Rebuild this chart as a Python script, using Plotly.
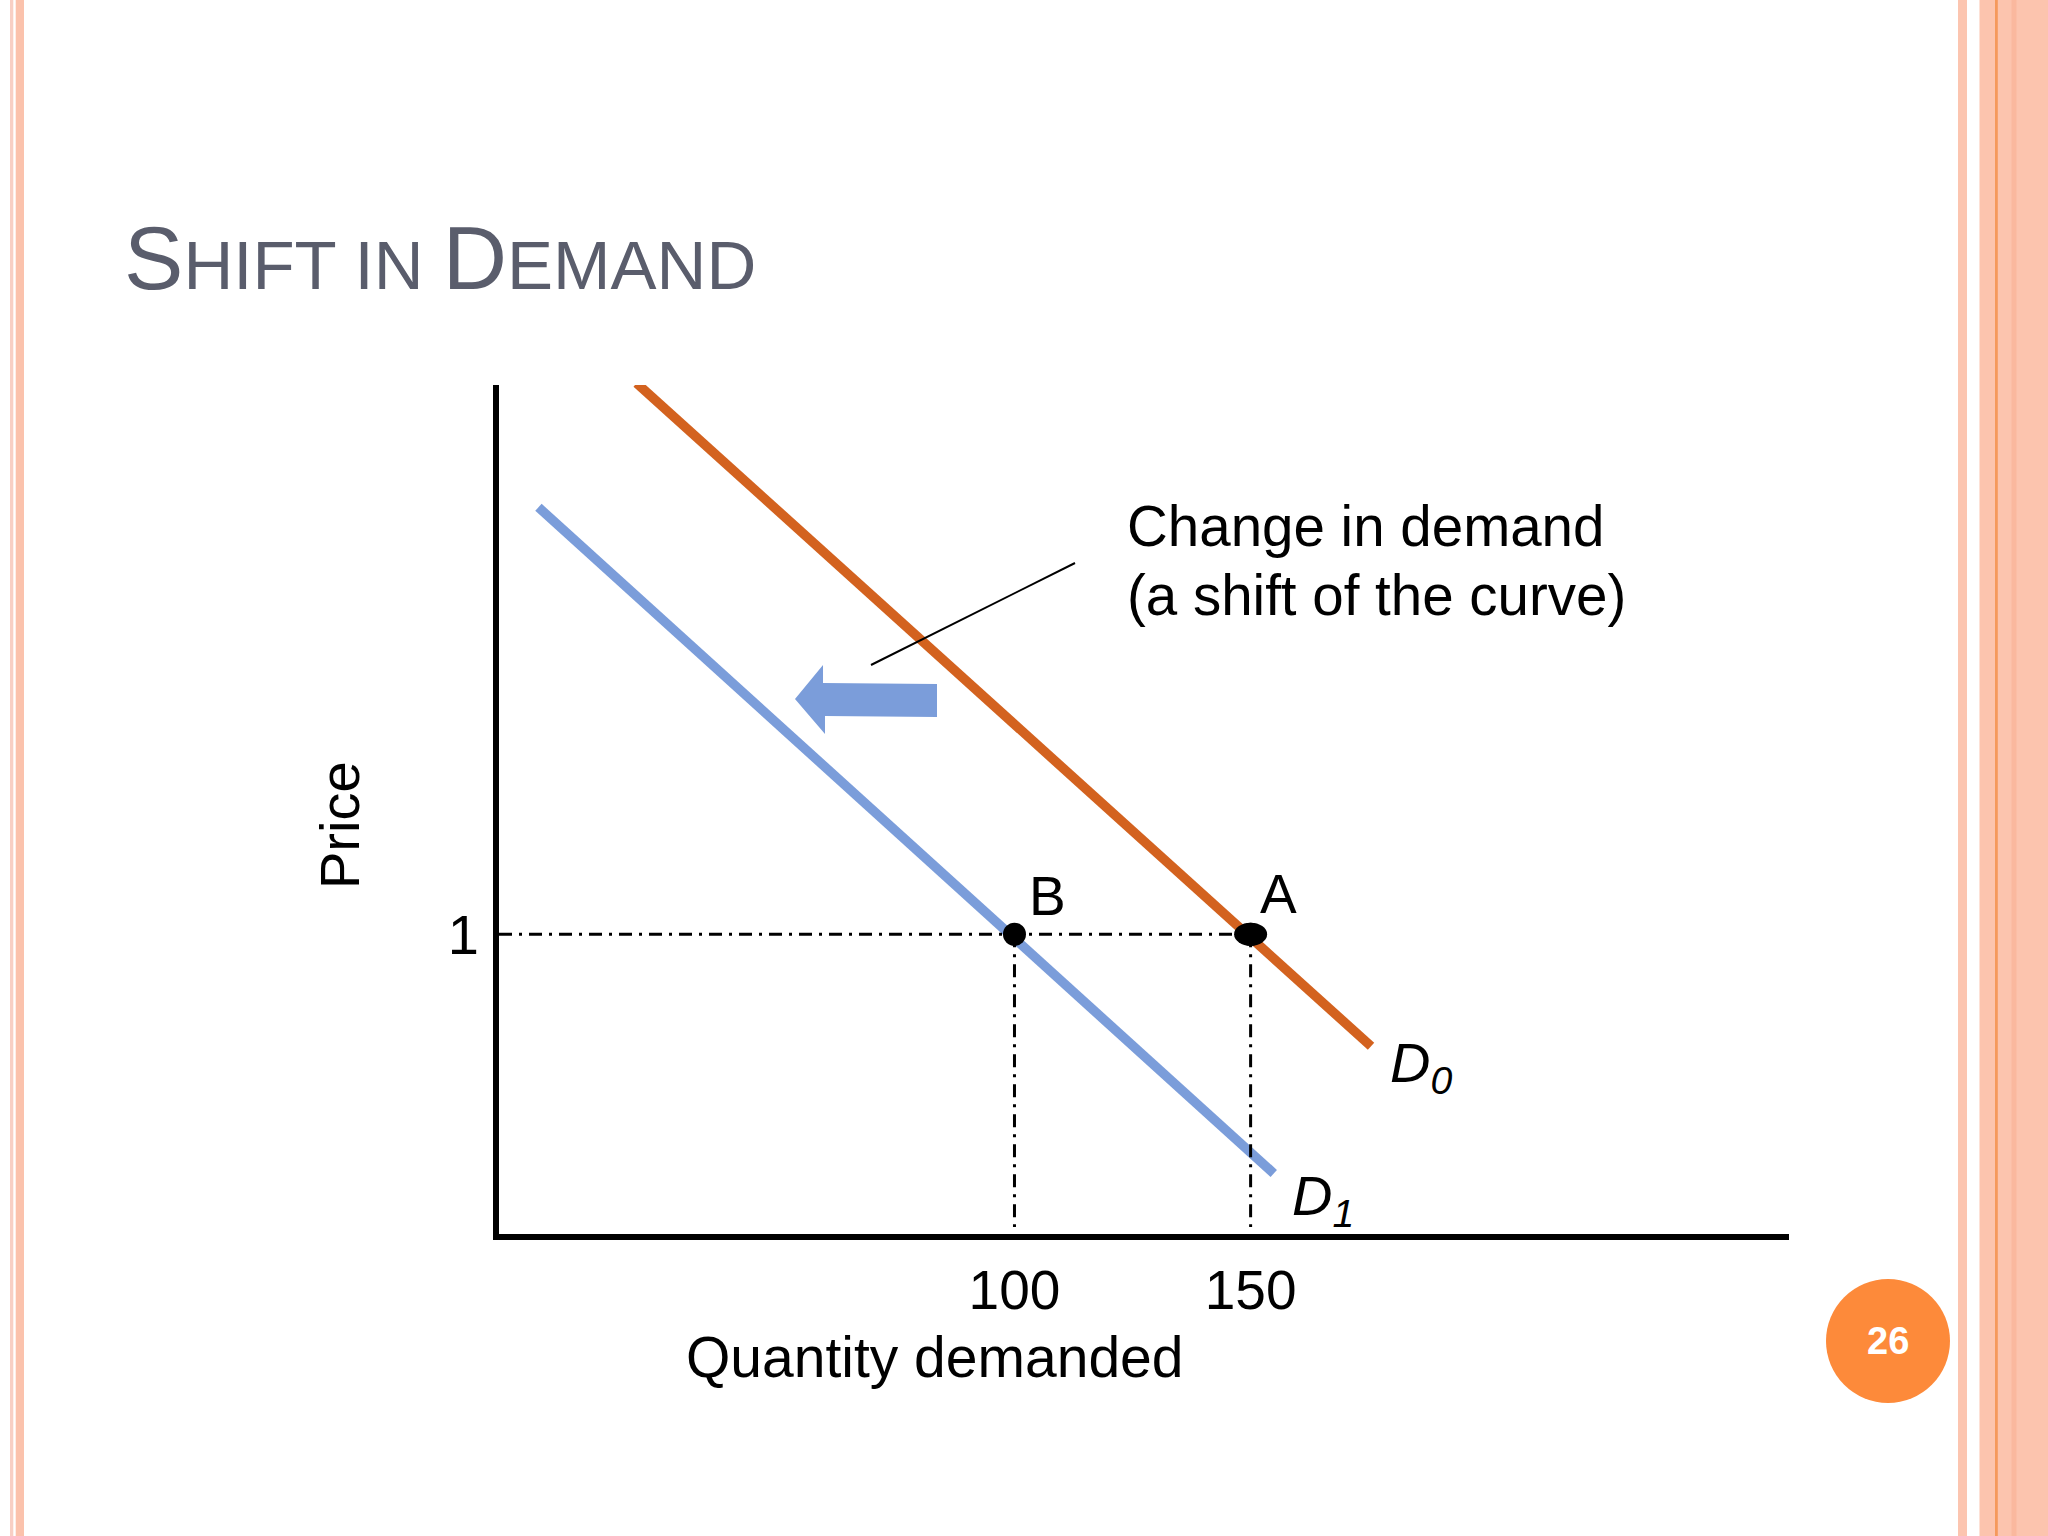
import plotly.graph_objects as go

W, H = 2048, 1536

# ---------------- data ----------------
title_big = ["S", "D"]
x_label = "Quantity demanded"
y_label = "Price"
d0_q = [20.0, 175.5]
d0_p = [2.82, 0.63]
d1_q = [-0.8, 154.9]
d1_p = [2.41, 0.21]
point_names = ["B", "A"]
point_q = [100, 150]
point_p = [1, 1]
x_ticks = [100, 150]
x_ticktext = ["100", "150"]
y_ticks = [1]
y_ticktext = ["1"]
curve_labels = ["<i>D<sub>0</sub></i>", "<i>D<sub>1</sub></i>"]
note_lines = ["Change in demand", "(a shift of the curve)"]
page_number = "26"

X_RANGE = [-9.15, 264]
Y_RANGE = [0.01, 2.814]
DASH_BOTTOM = 0.033

ORANGE = "#D3621F"
BLUE = "#7B9DDA"
FONT = "Liberation Sans, Arial, sans-serif"


def px(x):
    return x / W


def py(y):
    return 1 - y / H


fig = go.Figure()

# demand curves
fig.add_trace(go.Scatter(x=d0_q, y=d0_p, mode="lines",
                         line=dict(color=ORANGE, width=9.5), cliponaxis=False,
                         hoverinfo="skip"))
fig.add_trace(go.Scatter(x=d1_q, y=d1_p, mode="lines",
                         line=dict(color=BLUE, width=9.5), cliponaxis=False,
                         hoverinfo="skip"))

# dash-dot guide lines
gx = [X_RANGE[0], point_q[1], None, point_q[0], point_q[0], None, point_q[1], point_q[1]]
gy = [point_p[1], point_p[1], None, point_p[0], DASH_BOTTOM, None, point_p[1], DASH_BOTTOM]
fig.add_trace(go.Scatter(x=gx, y=gy, mode="lines",
                         line=dict(color="black", width=3, dash="13px,7px,3px,7px"),
                         hoverinfo="skip"))

# points
fig.add_trace(go.Scatter(x=point_q, y=point_p, mode="markers",
                         marker=dict(color="black", size=23), cliponaxis=False,
                         hoverinfo="skip"))

shapes = []
# page borders
stripes = [
    (10, 13.3, "#F8CFC4"), (15.7, 24, "#FBC2AC"),
    (1958, 1967, "#FCC5B0"), (1979.5, 2048, "#FCC4AE"),
    (2011.5, 2016.5, "#FAB89E"), (1995, 1997.8, "#F5995C"),
]
for x0, x1, c in stripes:
    shapes.append(dict(type="rect", xref="paper", yref="paper",
                       x0=px(x0), x1=px(x1), y0=0, y1=1,
                       fillcolor=c, line=dict(width=0), layer="below"))

# point A is drawn as a wider ellipse
shapes.append(dict(type="circle", xref="x", yref="y",
                   xsizemode="pixel", ysizemode="pixel",
                   xanchor=point_q[1], yanchor=point_p[1],
                   x0=-16.5, x1=16.5, y0=-11.5, y1=11.5,
                   fillcolor="black", line=dict(width=0)))

# connector line for note
shapes.append(dict(type="line", xref="paper", yref="paper",
                   x0=px(1075), y0=py(563), x1=px(871), y1=py(665),
                   line=dict(color="black", width=2)))

# shift arrow
arrow_pts = [(795, 699), (823, 665), (823, 683), (937, 684),
             (937, 717), (825, 716), (825, 734)]
path = "M " + " L ".join(f"{px(a):.5f},{py(b):.5f}" for a, b in arrow_pts) + " Z"
shapes.append(dict(type="path", xref="paper", yref="paper", path=path,
                   fillcolor=BLUE, line=dict(width=0)))

# page number circle
shapes.append(dict(type="circle", xref="paper", yref="paper",
                   x0=px(1826), x1=px(1950), y0=py(1403), y1=py(1279),
                   fillcolor="#FD8A3A", line=dict(width=0)))

annotations = []
# title
title_html = (f"<span style='font-size:89px'>{title_big[0]}</span>HIFT IN "
              f"<span style='font-size:89px'>{title_big[1]}</span>EMAND")
annotations.append(dict(text=title_html, xref="paper", yref="paper",
                        x=px(122), y=py(258), xanchor="left", yanchor="middle",
                        showarrow=False, font=dict(family=FONT, size=69, color="#5A5D6C")))
# point labels
annotations.append(dict(text=point_names[0], x=point_q[0], y=point_p[0], xref="x", yref="y",
                        xanchor="left", yanchor="middle", xshift=13, yshift=38,
                        showarrow=False, font=dict(family=FONT, size=55, color="black")))
annotations.append(dict(text=point_names[1], x=point_q[1], y=point_p[1], xref="x", yref="y",
                        xanchor="left", yanchor="middle", xshift=7, yshift=40,
                        showarrow=False, font=dict(family=FONT, size=55, color="black")))
# curve labels
annotations.append(dict(text=curve_labels[0], x=d0_q[-1], y=d0_p[-1], xref="x", yref="y",
                        xanchor="left", yanchor="middle", xshift=17, yshift=-20,
                        showarrow=False, font=dict(family=FONT, size=56, color="black")))
annotations.append(dict(text=curve_labels[1], x=d1_q[-1], y=d1_p[-1], xref="x", yref="y",
                        xanchor="left", yanchor="middle", xshift=16, yshift=-26,
                        showarrow=False, font=dict(family=FONT, size=56, color="black")))
# note text
for i, (line, yy) in enumerate(zip(note_lines, [527, 596])):
    annotations.append(dict(text=line, xref="paper", yref="paper",
                            x=px(1125), y=py(yy), xanchor="left", yanchor="middle",
                            showarrow=False, font=dict(family=FONT, size=56.5, color="black")))
# axis titles
annotations.append(dict(text=x_label, xref="paper", yref="paper",
                        x=px(935), y=py(1357), xanchor="center", yanchor="middle",
                        showarrow=False, font=dict(family=FONT, size=57, color="black")))
annotations.append(dict(text=y_label, xref="paper", yref="paper",
                        x=px(339), y=py(825), xanchor="center", yanchor="middle",
                        textangle=-90, showarrow=False,
                        font=dict(family=FONT, size=56, color="black")))
# page number
annotations.append(dict(text=f"<b>{page_number}</b>", xref="paper", yref="paper",
                        x=px(1888), y=py(1341), xanchor="center", yanchor="middle",
                        showarrow=False, font=dict(family=FONT, size=38, color="white")))

fig.update_layout(
    width=W, height=H,
    margin=dict(l=0, r=0, t=0, b=0),
    paper_bgcolor="white", plot_bgcolor="white",
    showlegend=False,
    shapes=shapes, annotations=annotations,
    xaxis=dict(domain=[px(499), px(1789)], range=X_RANGE,
               showgrid=False, zeroline=False,
               showline=True, linewidth=6, linecolor="black",
               tickmode="array", tickvals=x_ticks, ticktext=x_ticktext,
               ticks="", ticklabelstandoff=3,
               tickfont=dict(family=FONT, size=55, color="black")),
    yaxis=dict(domain=[py(1234), py(385)], range=Y_RANGE,
               showgrid=False, zeroline=False,
               showline=True, linewidth=6, linecolor="black",
               tickmode="array", tickvals=y_ticks, ticktext=y_ticktext,
               ticks="", ticklabelstandoff=3,
               tickfont=dict(family=FONT, size=56, color="black")),
)

fig.write_html("out.html")
